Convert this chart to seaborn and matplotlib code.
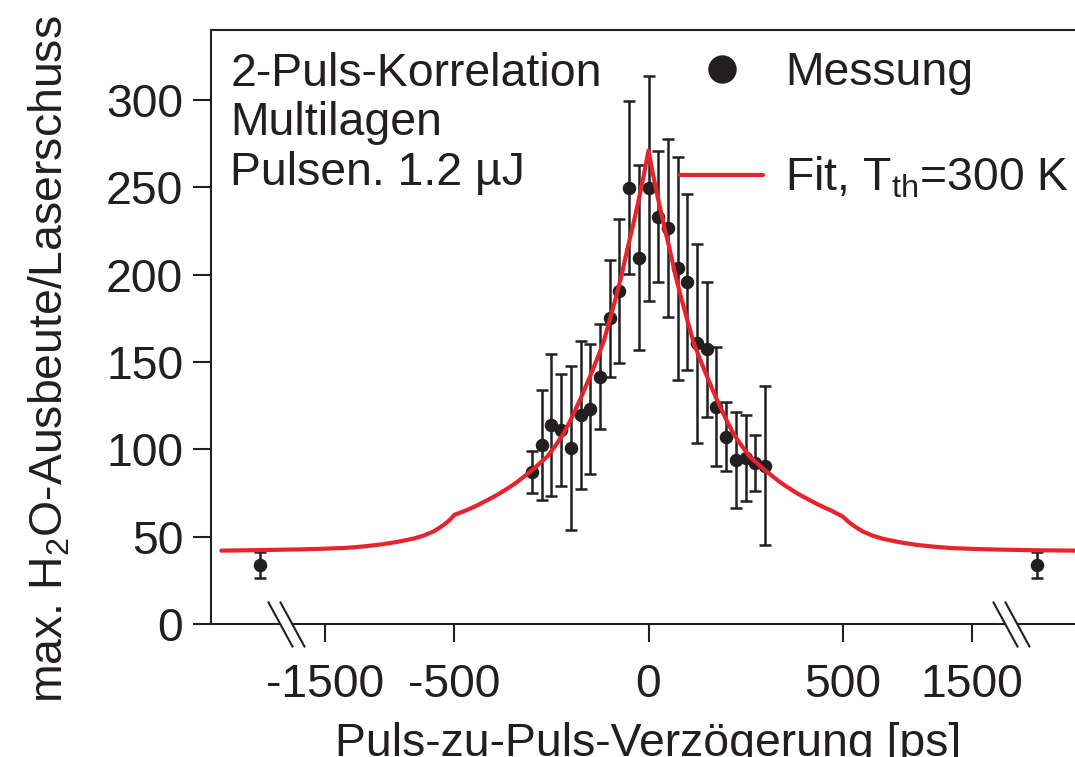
import numpy as np
import matplotlib
matplotlib.use("Agg")
import matplotlib.pyplot as plt
import matplotlib.transforms as mtransforms
from matplotlib.path import Path
import seaborn as sns

# ---------------- data ----------------
delay_ps = [-2000, -300, -275, -250, -225, -200, -175, -150, -125, -100, -75, -50, -25,
            0, 25, 50, 75, 100, 125, 150, 175, 200, 225, 250, 275, 300, 2000]
yield_meas = [33.8, 87.2, 102.5, 113.9, 111.0, 100.6, 119.6, 123.0, 141.6, 175.0, 190.6, 249.7, 209.7,
              249.4, 233.1, 226.5, 203.6, 195.9, 160.7, 157.2, 124.4, 107.2, 93.9, 94.8, 92.0, 90.6, 33.8]
yield_err = [7.4, 12.0, 31.5, 40.5, 32.0, 47.0, 42.3, 37.0, 30.0, 33.6, 41.2, 49.4, 53.0,
             64.5, 37.6, 51.0, 63.8, 50.3, 57.0, 38.5, 34.0, 19.7, 27.4, 24.6, 16.0, 45.4, 7.4]

fit_delay_ps = [-2300, -2000, -1700, -1500, -1330, -1200, -1070, -940, -810, -730, -660, -610,
                -560, -530, -500, -470, -440, -410, -385, -360, -340, -320, -300, -280, -260,
                -240, -220, -200, -175, -150, -130, -115, -100, -85, -70, -53, -40, -25, -12,
                0,
                12, 25, 40, 53, 70, 85, 100, 115, 130, 150, 175, 200, 220, 240, 260, 280, 300,
                320, 340, 360, 385, 410, 440, 470, 500, 530, 560, 610, 660, 730, 810, 940,
                1070, 1200, 1330, 1500, 1700, 2000, 2300]
fit_yield = [42.0, 42.3, 42.7, 43.1, 43.6, 44.4, 45.5, 47.0, 49.0, 50.8, 53.0, 55.3,
             58.0, 60.0, 62.5, 65.0, 68.0, 71.5, 74.5, 78.0, 81.0, 84.5, 88.0, 92.0, 96.0,
             102.0, 108.5, 117.0, 129.0, 142.0, 153.0, 162.0, 174.0, 186.0, 199.0, 216.0,
             228.0, 243.0, 257.0,
             271.0,
             257.0, 243.0, 228.0, 216.0, 199.0, 186.0, 174.0, 162.0, 153.0, 142.0, 129.0,
             117.0, 108.5, 102.0, 96.0, 92.0, 88.0, 84.5, 81.0, 78.0, 74.5, 71.5, 68.0,
             65.0, 61.5, 59.5, 57.6, 55.0, 52.8, 50.6, 48.8, 46.8, 45.3, 44.3, 43.5, 43.0,
             42.6, 42.2, 42.0]

xtick_values = [-1500, -500, 0, 500, 1500]
xtick_labels = ["-1500", "-500", "0", "500", "1500"]
ytick_values = [0, 50, 100, 150, 200, 250, 300]
axis_breaks = [-1800, 1800]

info_text = "2-Puls-Korrelation\nMultilagen\nPulsen. 1.2 µJ"
label_meas = "Messung"
label_fit = r"Fit, T$_{\mathrm{th}}$=300 K"
xlabel = "Puls-zu-Puls-Verzögerung [ps]"
ylabel = r"max. H$_2$O-Ausbeute/Laserschuss"

# ---------------- style ----------------
sns.set_style("ticks")
plt.rcParams["font.family"] = ["Liberation Sans", "DejaVu Sans"]
plt.rcParams["mathtext.fontset"] = "custom"
plt.rcParams["mathtext.rm"] = "Liberation Sans"
plt.rcParams["mathtext.it"] = "Liberation Sans:italic"
plt.rcParams["mathtext.bf"] = "Liberation Sans:bold"

INK = "#231f20"
RED = "#e8232b"
FS = 33.4

# broken / compressed x axis: linear inside |x|<=500, compressed outside
K = 1.0 / 3.0


def fwd(x):
    x = np.asarray(x, dtype=float)
    a = np.abs(x)
    return np.where(a <= 500, x, np.sign(x) * (500 + (a - 500) * K))


def inv(u):
    u = np.asarray(u, dtype=float)
    a = np.abs(u)
    return np.where(a <= 500, u, np.sign(u) * (500 + (a - 500) / K))


fig = plt.figure(figsize=(10.75, 7.57), dpi=100)
ax = fig.add_axes([211 / 1075, 133 / 757, 875 / 1075, 594 / 757])
ax.set_xscale("function", functions=(fwd, inv))

ax.errorbar(delay_ps, yield_meas, yerr=yield_err, fmt="none", ecolor=INK,
            elinewidth=1.8, capsize=4.6, capthick=1.8, zorder=2)
sns.scatterplot(x=delay_ps, y=yield_meas, s=95, color=INK, edgecolor=INK,
                linewidth=0, ax=ax, label=label_meas, zorder=3)
sns.lineplot(x=fit_delay_ps, y=fit_yield, sort=False, estimator=None, color=RED,
             linewidth=3.0, ax=ax, label=label_fit, zorder=4)

ax.set_xlim(-2380, 2380)
ax.set_ylim(0, 340)
ax.set_xticks(xtick_values)
ax.set_xticklabels(xtick_labels)
ax.set_xticks([], minor=True)
ax.set_yticks(ytick_values)

for s in ax.spines.values():
    s.set_linewidth(1.5)
    s.set_color(INK)

ax.tick_params(axis="both", direction="out", length=13, width=1.5,
               labelsize=FS, colors=INK)
ax.tick_params(axis="x", pad=15)
ax.tick_params(axis="y", pad=7)

ax.set_xlabel(xlabel, fontsize=FS, color=INK, labelpad=11)
ax.set_ylabel(ylabel, fontsize=FS, color=INK)
ax.yaxis.set_label_coords(-0.158, 0.445)

ax.text(0.022, 0.963, info_text, transform=ax.transAxes, ha="left", va="top",
        fontsize=FS, color=INK, linespacing=1.16)

handles, labels = ax.get_legend_handles_labels()
leg = ax.legend(handles, labels, loc="upper left",
                bbox_to_anchor=(680 / 1075, 1 - 51 / 757), bbox_transform=fig.transFigure,
                frameon=False, borderpad=0, borderaxespad=0, handlelength=1.79,
                handletextpad=0.47, labelspacing=1.3, markerscale=2.1,
                scatterpoints=1, scatteryoffsets=[0.5], fontsize=FS)
for t in leg.get_texts():
    t.set_color(INK)

# axis break marks (//)
slash = Path([(-12.5, 23), (12.5, -23)], [Path.MOVETO, Path.LINETO])
for b in axis_breaks:
    ax.plot([b], [0], marker=slash, markersize=30, mec="white", mew=7,
            ls="none", clip_on=False, zorder=5)
    for dx in (-6, 6):
        tr = ax.transData + mtransforms.ScaledTranslation(dx / 100, 0, fig.dpi_scale_trans)
        ax.plot([b], [0], marker=slash, markersize=33, mec=INK, mew=1.5,
                ls="none", clip_on=False, zorder=6, transform=tr)

fig.savefig("out.png", dpi=100)
